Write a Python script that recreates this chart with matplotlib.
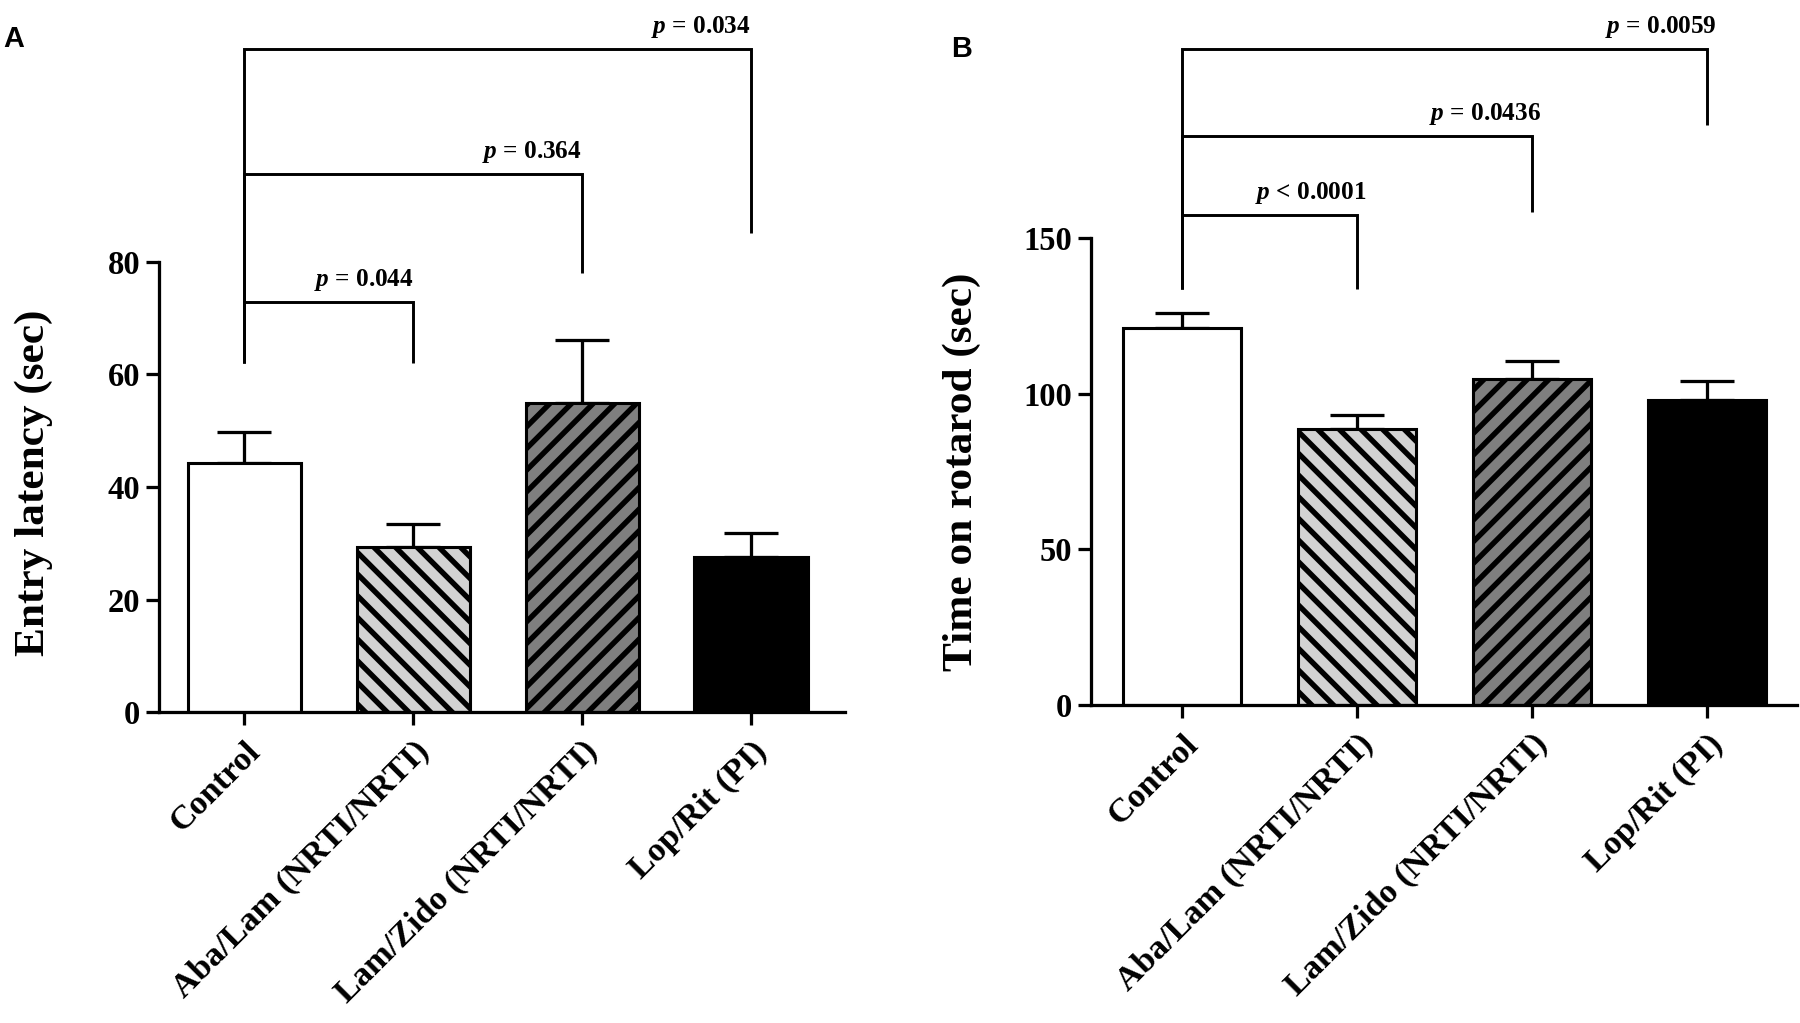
import matplotlib
matplotlib.use('Agg')
import matplotlib.pyplot as plt
import numpy as np

# ---------------- data ----------------
categories = ['Control', 'Aba/Lam (NRTI/NRTI)', 'Lam/Zido (NRTI/NRTI)', 'Lop/Rit (PI)']

latency_mean = [44.2, 29.4, 55.0, 27.6]
latency_sem = [5.6, 4.0, 11.1, 4.3]
latency_ticks = [0, 20, 40, 60, 80]
latency_pvals = ['= 0.044', '= 0.364', '= 0.034']
latency_pairs = [(0, 1), (0, 2), (0, 3)]
latency_bracket_top = [72.9, 95.6, 117.8]
latency_leg_bottom = [62.0, 78.0, 85.1]
latency_left_bottom = 62.0

rotarod_mean = [121.1, 88.7, 104.7, 98.0]
rotarod_sem = [4.8, 4.5, 5.8, 6.1]
rotarod_ticks = [0, 50, 100, 150]
rotarod_pvals = ['< 0.0001', '= 0.0436', '= 0.0059']
rotarod_pairs = [(0, 1), (0, 2), (0, 3)]
rotarod_bracket_top = [157.4, 182.8, 210.7]
rotarod_leg_bottom = [133.6, 158.4, 186.3]
rotarod_left_bottom = 133.6

bar_colors = ['white', '#d3d3d3', '#7f7f7f', 'black']
bar_hatches = ['', '\\\\', '//', '']

# ---------------- style ----------------
DPI = 130
plt.rcParams['font.family'] = ['Liberation Serif', 'DejaVu Serif']
plt.rcParams['font.weight'] = 'bold'
plt.rcParams['mathtext.fontset'] = 'custom'
plt.rcParams['mathtext.it'] = 'Liberation Serif:italic:bold'
plt.rcParams['mathtext.rm'] = 'Liberation Serif:bold'
plt.rcParams['hatch.linewidth'] = 3.0
plt.rcParams['hatch.color'] = 'black'

fig = plt.figure(figsize=(1800 / DPI, 1023 / DPI), dpi=DPI)

LW = 1.8


def draw_panel(ax, means, sems, ticks, ylim, xlim, pvals, pairs, tops, legs,
               left_bottom, xoff_pt):
    x = np.arange(len(categories))
    ax.errorbar(x, means, yerr=[np.zeros(len(sems)), sems], fmt='none',
                ecolor='black', elinewidth=LW, capsize=15, capthick=LW, zorder=1)
    for xi, m, c, h in zip(x, means, bar_colors, bar_hatches):
        ax.bar(xi, m, width=0.67, color=c, edgecolor='black', linewidth=1.7,
               hatch=h, zorder=2)
    ax.set_xlim(*xlim)
    ax.set_ylim(*ylim)
    ax.set_yticks(ticks)
    ax.set_xticks(x)
    ax.set_xticklabels(categories, rotation=45, ha='right', va='top',
                       rotation_mode='anchor', fontsize=19)
    ax.tick_params(axis='y', labelsize=18, width=LW, length=7, pad=3.5)
    ax.tick_params(axis='x', width=LW, length=7, pad=6)
    for s in ['top', 'right']:
        ax.spines[s].set_visible(False)
    for s in ['left', 'bottom']:
        ax.spines[s].set_linewidth(LW)
    # significance brackets
    for (a, b), top, leg, p in zip(pairs, tops, legs, pvals):
        ax.plot([a, a, b, b], [left_bottom, top, top, leg], color='black',
                lw=LW * 0.9, clip_on=False, solid_joinstyle='miter',
                solid_capstyle='butt', zorder=3)
        ax.annotate(r'$p$ ' + p, xy=(b, top), xytext=(xoff_pt, 9),
                    textcoords='offset points', ha='right', va='baseline',
                    fontsize=14, fontweight='bold', annotation_clip=False)
    return ax


axA = fig.add_axes([159 / 1800, 1 - 712 / 1023, 686 / 1800, 450 / 1023])
draw_panel(axA, latency_mean, latency_sem, latency_ticks, (0, 80), (-0.506, 3.557),
           latency_pvals, latency_pairs, latency_bracket_top, latency_leg_bottom,
           latency_left_bottom, 0)

axB = fig.add_axes([1091 / 1800, 1 - 705 / 1023, 706 / 1800, 467 / 1023])
draw_panel(axB, rotarod_mean, rotarod_sem, rotarod_ticks, (0, 150), (-0.52, 3.514),
           rotarod_pvals, rotarod_pairs, rotarod_bracket_top, rotarod_leg_bottom,
           rotarod_left_bottom, 5)

fig.text(34 / 1800, 1 - 483 / 1023, 'Entry latency (sec)', rotation=90,
         ha='center', va='center', fontsize=24, fontweight='bold')
fig.text(962 / 1800, 1 - 472 / 1023, 'Time on rotarod (sec)', rotation=90,
         ha='center', va='center', fontsize=24, fontweight='bold')

fig.text(14 / 1800, 1 - 39 / 1023, 'A', ha='center', va='center', fontsize=16,
         fontweight='bold', family=['Liberation Sans', 'DejaVu Sans'])
fig.text(962 / 1800, 1 - 49 / 1023, 'B', ha='center', va='center', fontsize=16,
         fontweight='bold', family=['Liberation Sans', 'DejaVu Sans'])

fig.savefig('out.png', dpi=DPI)
